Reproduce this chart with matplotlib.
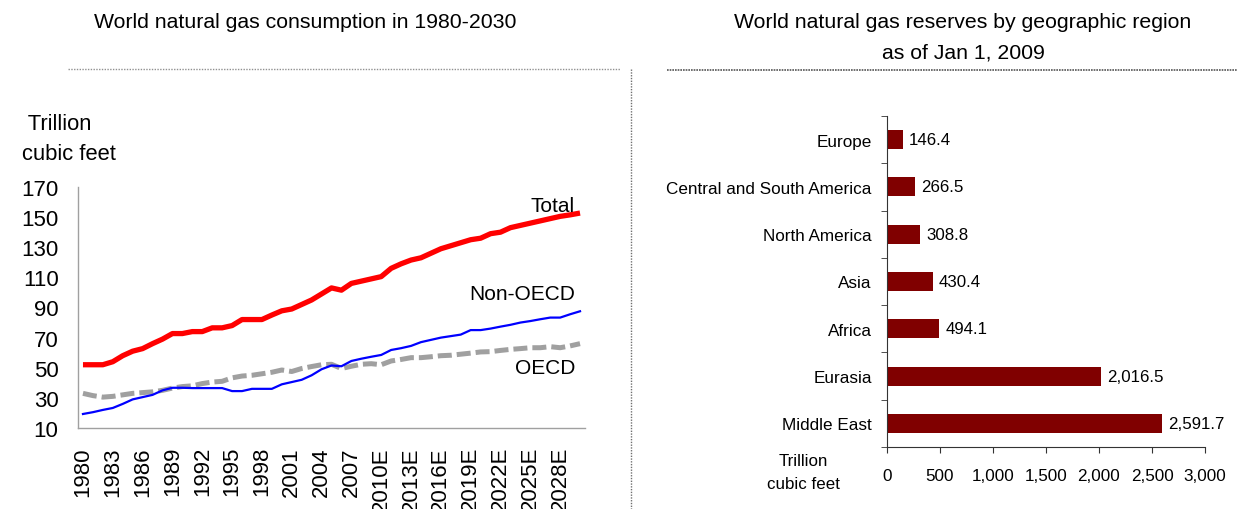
import numpy as np
import matplotlib.pyplot as plt
from matplotlib.lines import Line2D
from matplotlib.ticker import FuncFormatter

plt.rcParams['font.family'] = ['Liberation Sans', 'DejaVu Sans']

# left chart data: world natural gas consumption, trillion cubic feet
years = list(range(1980, 2031))
total = [52, 52, 52, 54, 58, 61, 62.7, 66, 69, 72.7,
         72.7, 74, 74, 76.5, 76.5, 78, 82, 82, 82, 85,
         87.8, 89, 92, 95, 99, 103, 101.5, 106, 107.5, 109,
         110.5, 116, 119, 121.5, 123, 126, 129, 131, 133, 135,
         136, 139, 140, 143, 144.5, 146, 147.5, 149, 150.5, 151.5,
         152.7]
non_oecd = [19.3, 20.5, 22, 23.3, 26, 29, 30.5, 32, 35, 36.7,
            36.7, 36.5, 36.5, 36.5, 36.5, 34.5, 34.5, 36, 36, 36,
            39, 40.5, 42, 45, 49, 51.5, 51, 54.5, 56, 57.3,
            58.5, 61.8, 63, 64.5, 67, 68.5, 70, 71, 72, 75,
            75, 76, 77.3, 78.5, 80, 81, 82.2, 83.3, 83.3, 85.5,
            87.5]
oecd = [33, 31.5, 30.5, 31, 32, 33, 33.5, 34, 35, 36.5,
        37.5, 38, 39.5, 40.5, 41, 43.3, 44.5, 45, 46, 47,
        48.5, 47.5, 49.5, 50.8, 52, 52.3, 49.5, 51, 52.3, 52.7,
        52, 54.5, 55.5, 56.7, 56.7, 57.3, 58, 58.3, 59, 59.7,
        60.5, 60.7, 61.5, 62.2, 62.7, 63.3, 63.3, 64, 63.3, 64.5,
        66]
year_labels = [str(y) + ('E' if y >= 2010 else '') for y in years]

# right chart data: reserves as of Jan 1, 2009
regions = ['Europe', 'Central and South America', 'North America', 'Asia',
           'Africa', 'Eurasia', 'Middle East']
reserves = [146.4, 266.5, 308.8, 430.4, 494.1, 2016.5, 2591.7]

W, H = 1237, 510
fig = plt.figure(figsize=(W / 100, H / 100), dpi=100)

def fx(px):
    return px / W

def fy(py):
    return 1 - py / H

# titles
fig.text(fx(305), fy(22), 'World natural gas consumption in 1980-2030',
         ha='center', va='center', fontsize=15.3)
fig.text(fx(963), fy(22), 'World natural gas reserves by geographic region',
         ha='center', va='center', fontsize=15.3)
fig.text(fx(963), fy(53), 'as of Jan 1, 2009',
         ha='center', va='center', fontsize=15.3)

# separators
fig.add_artist(Line2D([fx(68), fx(620)], [fy(70), fy(70)], color='#909090',
                      lw=1, linestyle=(0, (1, 1))))
fig.add_artist(Line2D([fx(667), fx(1237)], [fy(71), fy(71)], color='#555555',
                      lw=1.2, linestyle=(0, (1, 0.6))))
fig.add_artist(Line2D([fx(631), fx(631)], [fy(70), fy(510)], color='#707070',
                      lw=1, linestyle=(0, (1, 1))))

# ---- left: line chart
ax = fig.add_axes([fx(78), fy(429), fx(585) - fx(78), fy(188) - fy(429)])
x = np.arange(len(years))
ax.plot(x, oecd, color='#A0A0A0', lw=3.6, linestyle=(0, (2.8, 1.0)))
ax.plot(x, non_oecd, color='#0000FF', lw=1.6)
ax.plot(x, total, color='#FF0000', lw=3.8, solid_capstyle='butt')
ax.set_xlim(-0.5, len(years) - 0.5)
ax.set_ylim(10, 170)
ax.set_yticks(range(10, 171, 20))
ax.set_xticks(x[::3])
ax.set_xticklabels(year_labels[::3], rotation=90, va='top')
ax.tick_params(axis='y', length=0, pad=14, labelsize=16)
ax.tick_params(axis='x', length=0, pad=13, labelsize=16)
for s in ['top', 'right']:
    ax.spines[s].set_visible(False)
for s in ['left', 'bottom']:
    ax.spines[s].set_color('#A0A0A0')
    ax.spines[s].set_linewidth(1)

ax.text(len(years) - 1.5, 158, 'Total', ha='right', va='center', fontsize=15)
ax.text(len(years) - 1.5, 99.5, 'Non-OECD', ha='right', va='center', fontsize=15)
ax.text(len(years) - 1.5, 50, 'OECD', ha='right', va='center', fontsize=15)
fig.text(fx(22), fy(124), ' Trillion', ha='left', va='center', fontsize=15.8)
fig.text(fx(22), fy(154), 'cubic feet', ha='left', va='center', fontsize=15.8)

# ---- right: horizontal bars
bx = fig.add_axes([fx(887), fy(448), fx(1205) - fx(887), fy(117) - fy(448)])
pos = np.arange(len(regions))
bx.barh(pos, reserves, height=0.4, color='#800000')
bx.set_ylim(len(regions) - 0.5, -0.5)
bx.set_xlim(0, 3000)
bx.set_xticks(range(0, 3001, 500))
bx.xaxis.set_major_formatter(FuncFormatter(lambda v, p: f'{int(v):,}'))
bx.set_yticks(pos)
bx.set_yticklabels(regions)
bx.set_yticks(np.arange(-0.5, len(regions), 1), minor=True)
bx.tick_params(axis='y', which='major', length=0, pad=11, labelsize=12.3)
bx.tick_params(axis='y', which='minor', length=4, direction='out', color='#333333')
bx.tick_params(axis='x', length=4, direction='out', pad=11, labelsize=12.3,
               color='#333333')
for s in ['top', 'right']:
    bx.spines[s].set_visible(False)
for s in ['left', 'bottom']:
    bx.spines[s].set_color('#333333')
for p, v in zip(pos, reserves):
    bx.text(v + 60, p, f'{v:,.1f}', ha='left', va='center', fontsize=12.2)
fig.text(fx(803), fy(462), 'Trillion', ha='center', va='center', fontsize=12.2)
fig.text(fx(803), fy(485), 'cubic feet', ha='center', va='center', fontsize=12.2)

fig.savefig('out.png', dpi=100)
